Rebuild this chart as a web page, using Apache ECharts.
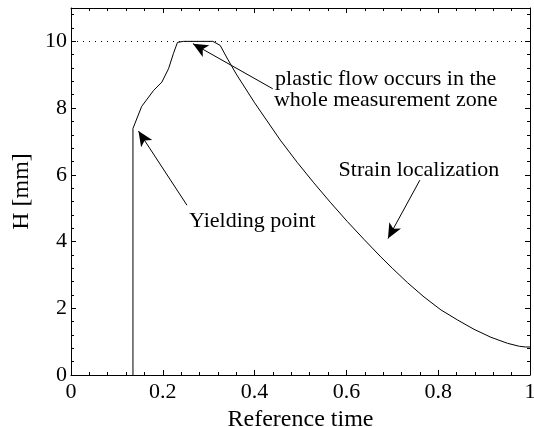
<!DOCTYPE html>
<html>
<head>
<meta charset="utf-8">
<script src="https://cdn.jsdelivr.net/npm/echarts@6/dist/echarts.min.js"></script>
<style>html,body{margin:0;padding:0;background:#fff}#c{width:534px;height:427px}</style>
</head>
<body>
<div id="c"></div>
<script>
// Reference time (x) and H [mm] (y) of the measured curve
var timeValues = [0.135, 0.135, 0.154, 0.180, 0.198, 0.2125, 0.223, 0.232, 0.245, 0.309, 0.325, 0.340, 0.360, 0.400, 0.456, 0.493, 0.529, 0.566, 0.602, 0.638, 0.675, 0.700, 0.733, 0.769, 0.806, 0.842, 0.878, 0.915, 0.951, 0.977, 0.990, 1.000];
var heightValues = [0, 7.39, 8.05, 8.53, 8.78, 9.18, 9.63, 9.97, 10.0, 10.0, 9.88, 9.50, 9.02, 8.16, 7.04, 6.37, 5.76, 5.16, 4.60, 4.07, 3.54, 3.20, 2.77, 2.34, 1.95, 1.65, 1.37, 1.13, 0.95, 0.86, 0.84, 0.84];
var referenceLevel = 10;
var xTicks = [0, 0.2, 0.4, 0.6, 0.8, 1];
var yTicks = [0, 2, 4, 6, 8, 10];

// Annotations: texts and arrows (data coordinates)
var annotationTexts = ['plastic flow occurs in the\nwhole measurement zone', 'Strain localization', 'Yielding point'];
var annotationTextX = [0.6856, 0.758, 0.395];
var annotationTextY = [8.56, 6.14, 4.61];
var arrowFromX = [0.4395, 0.760, 0.2526];
var arrowFromY = [8.58, 5.84, 5.09];
var arrowToX = [0.2657, 0.6906, 0.147];
var arrowToY = [9.93, 4.09, 7.31];

var font = '"Liberation Serif", "Times New Roman", serif';
var curve = timeValues.map(function (t, i) { return [t, heightValues[i]]; });

var arrows = arrowFromX.map(function (x, i) {
  return [{ coord: [x, arrowFromY[i]] }, { coord: [arrowToX[i], arrowToY[i]] }];
});
var texts = annotationTexts.map(function (t, i) {
  return { coord: [annotationTextX[i], annotationTextY[i]], value: t };
});

function axisCommon(show) {
  return {
    axisLine: { show: true, onZero: false, lineStyle: { color: '#000', width: 1 } },
    axisTick: { show: true, inside: true, length: 5, lineStyle: { color: '#000', width: 1 } },
    minorTick: { show: true, splitNumber: 5, length: 3, lineStyle: { color: '#000', width: 1 } },
    splitLine: { show: false },
    axisLabel: { show: show, color: '#000', fontFamily: font, fontSize: 22 }
  };
}

var option = {
  animation: false,
  backgroundColor: '#fff',
  grid: { left: 71, right: 4, top: 8, bottom: 52, containLabel: false, outerBoundsMode: 'none' },
  xAxis: [
    Object.assign({
      type: 'value', min: 0, max: 1, interval: 0.2, position: 'bottom',
      name: 'Reference time', nameLocation: 'middle', nameGap: 26,
      nameTextStyle: { color: '#000', fontFamily: font, fontSize: 24 }
    }, axisCommon(true), {
      axisLabel: { show: true, color: '#000', fontFamily: font, fontSize: 22, margin: 6, hideOverlap: false,
        formatter: function (v) { return xTicks.indexOf(+v.toFixed(2)) >= 0 ? String(+v.toFixed(2)) : ''; } }
    }),
    Object.assign({ type: 'value', min: 0, max: 1, interval: 0.2, position: 'top' }, axisCommon(false))
  ],
  yAxis: [
    Object.assign({
      type: 'value', min: 0, max: 11, interval: 2, position: 'left',
      name: 'H [mm]', nameLocation: 'middle', nameGap: 34,
      nameTextStyle: { color: '#000', fontFamily: font, fontSize: 24 }
    }, axisCommon(true), {
      axisLabel: { show: true, color: '#000', fontFamily: font, fontSize: 22, margin: 4, hideOverlap: false,
        formatter: function (v) { return yTicks.indexOf(v) >= 0 ? String(v) : ''; } }
    }),
    Object.assign({ type: 'value', min: 0, max: 11, interval: 2, position: 'right' }, axisCommon(false))
  ],
  series: [
    {
      type: 'line', data: curve, showSymbol: false, symbol: 'none',
      lineStyle: { color: '#000', width: 1 }, silent: true,
      markLine: {
        silent: true, symbol: ['none', 'none'], label: { show: false },
        lineStyle: { color: '#000', width: 1, type: [1, 5] },
        data: [[{ coord: [0, referenceLevel] }, { coord: [1, referenceLevel] }]]
      }
    },
    {
      type: 'line', data: [], silent: true,
      markLine: {
        silent: true, symbol: ['none', 'arrow'], symbolSize: [10, 15], label: { show: false },
        lineStyle: { color: '#000', width: 1, type: 'solid' },
        data: arrows
      },
      markPoint: {
        silent: true, symbol: 'circle', symbolSize: 0,
        label: { show: true, position: 'inside', color: '#000', fontFamily: font, fontSize: 22, lineHeight: 21,
          formatter: function (p) { return p.value; } },
        data: texts
      }
    }
  ]
};

var chart = echarts.init(document.getElementById('c'), null, { renderer: 'canvas' });
chart.setOption(option);
</script>
</body>
</html>
